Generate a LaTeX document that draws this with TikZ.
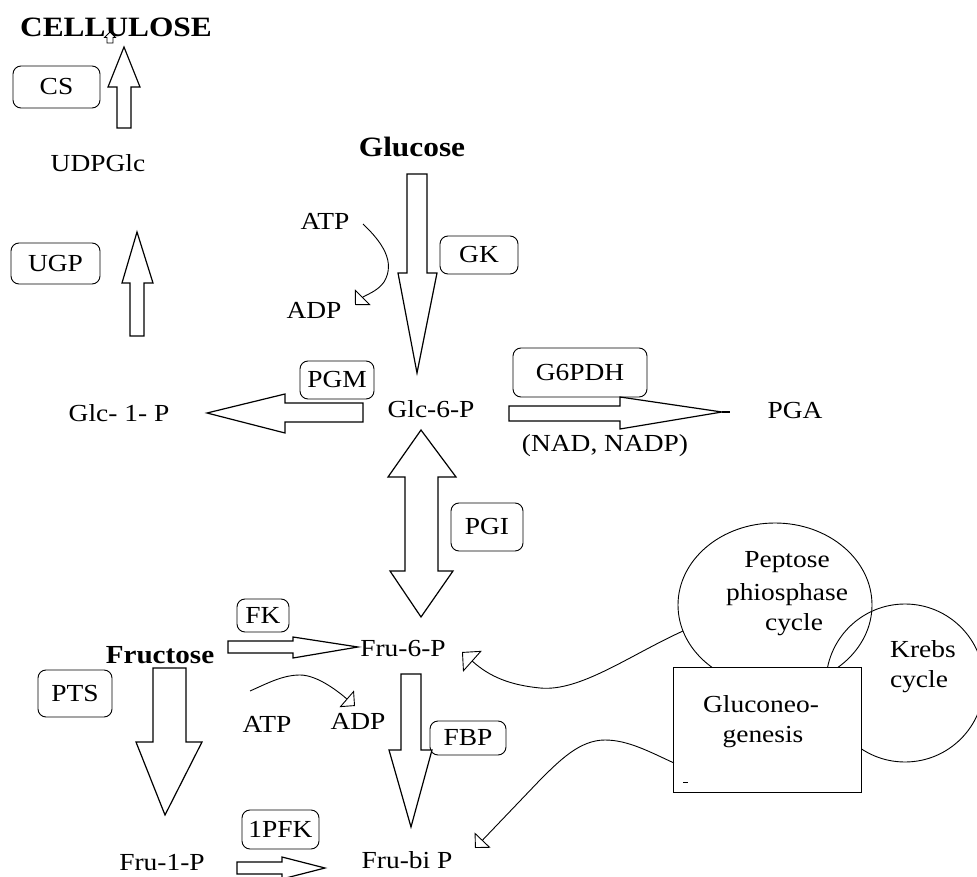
\documentclass[tikz,border=0pt]{standalone}
\usepackage{fontspec}
\setmainfont{Liberation Serif}[FakeStretch=1.12]
\usetikzlibrary{arrows.meta}
\begin{document}
\begin{tikzpicture}[x=1pt,y=-1pt,
  lbl/.style={inner sep=0pt, anchor=base, font=\fontsize{24.5}{29}\selectfont},
  blbl/.style={inner sep=0pt, anchor=base, font=\fontsize{28}{32}\selectfont\bfseries},
  enz/.style={draw, rounded corners=8pt, line width=0.9pt, inner sep=0pt, font=\fontsize{24.5}{29}\selectfont},
  blk/.style={draw, line width=1.2pt, fill=white, line join=miter},
  carr/.style={line width=0.9pt, -{Triangle[open,length=11pt,width=22pt,line width=0.9pt]}},
  carrbig/.style={line width=0.9pt, -{Triangle[open,length=14pt,width=28pt,line width=0.9pt]}},
  outl/.style={draw, line width=0.9pt}]
\useasboundingbox (0,0) rectangle (977,877);
\clip (0,0) rectangle (977,877);
\fill[white] (0,0) rectangle (977,877);

% ---- cycles ----
\draw[outl] (775,605) ellipse [x radius=97pt, y radius=82pt];
\draw[outl] (905,683) circle [radius=79pt];
\draw[outl, fill=white] (673,667) rectangle (861,792);
\draw[line width=0.9pt] (683,782) -- (688,782);

% ---- texts ----
\node[blbl] (cell) at (116,37) {CELLULOSE};
\node[lbl] (udpglc) at (98,172) {UDPGlc};
\node[blbl] (glucose) at (412,157) {Glucose};
\node[lbl] (atp1) at (325,230) {ATP};
\node[lbl] (adp1) at (314,318) {ADP};
\node[lbl] (glc1p) at (119,421) {Glc- 1- P};
\node[lbl] (glc6p) at (431,417) {Glc-6-P};
\node[lbl] (pga) at (795,418) {PGA};
\node[lbl] (nad) at (605,451) {(NAD, NADP)};
\node[blbl, font=\fontsize{26}{30}\selectfont\bfseries] (fructose) at (160,663) {Fructose};
\node[lbl] (fru6p) at (403,656) {Fru-6-P};
\node[lbl] (atp2) at (267,732) {ATP};
\node[lbl] (adp2) at (358,729) {ADP};
\node[lbl] (fru1p) at (162,870) {Fru-1-P};
\node[lbl] (frubip) at (407,868) {Fru-bi P};
\node[lbl] (pp1) at (787,567) {Peptose};
\node[lbl] (pp2) at (787,600) {phiosphase};
\node[lbl] (pp3) at (794,630) {cycle};
\node[lbl] (kr1) at (923,657) {Krebs};
\node[lbl] (kr2) at (919,687) {cycle};
\node[lbl] (gn1) at (761,712) {Gluconeo-};
\node[lbl] (gn2) at (763,742) {genesis};

% ---- enzyme boxes ----
\node[enz, minimum width=87pt, minimum height=42pt] (cs) at (56.5,87) {CS};
\node[enz, minimum width=89pt, minimum height=41pt] (ugp) at (55.5,263.5) {UGP};
\node[enz, minimum width=78pt, minimum height=38pt] (gk) at (479,255) {GK};
\node[enz, minimum width=74pt, minimum height=38pt] (pgm) at (337,380) {PGM};
\node[enz, minimum width=134pt, minimum height=49pt] (g6pdh) at (580,372.5) {G6PDH};
\node[enz, minimum width=72pt, minimum height=48pt] (pgi) at (487,527) {PGI};
\node[enz, minimum width=52pt, minimum height=33pt] (fk) at (263,615.5) {FK};
\node[enz, minimum width=74pt, minimum height=47pt] (pts) at (75,693.5) {PTS};
\node[enz, minimum width=76pt, minimum height=34pt] (fbp) at (468,738) {FBP};
\node[enz, minimum width=77pt, minimum height=39pt] (pfk) at (280.5,829.5) {1PFK};

% ---- block arrows ----
% CS (up)
\draw[blk] (117,128) -- (117,87) -- (108,87) -- (124,47) -- (140,87) -- (131,87) -- (131,128) -- cycle;
% tiny arrow in CELLULOSE
\draw[blk, line width=0.8pt] (107,43) -- (107,37.5) -- (104.5,37.5) -- (110,32) -- (115.5,37.5) -- (113,37.5) -- (113,43) -- cycle;
% UGP (up)
\draw[blk] (130,336) -- (130,283) -- (122,283) -- (137,232) -- (153,283) -- (144,283) -- (144,336) -- cycle;
% GK (down)
\draw[blk] (407,174) -- (427,174) -- (427,273) -- (437,273) -- (417,373) -- (398,273) -- (407,273) -- cycle;
% PGM (left)
\draw[blk] (363,403) -- (363,422) -- (285,422) -- (285,433) -- (207,413) -- (285,394) -- (285,403) -- cycle;
% G6PDH (right)
\draw[blk] (509,406) -- (620,406) -- (620,397) -- (722,412) -- (620,429) -- (620,421) -- (509,421) -- cycle;
\draw[line width=2pt] (722,412) -- (730,412);
% PGI (double)
\draw[blk] (421,430) -- (456,477) -- (438,477) -- (438,571) -- (453,571) -- (421,617) -- (390,571) -- (405,571) -- (405,477) -- (388,477) -- cycle;
% FK (right)
\draw[blk] (228,641) -- (293,641) -- (293,637) -- (358,647) -- (293,658) -- (293,653) -- (228,653) -- cycle;
% FBP (down)
\draw[blk] (401,674) -- (421,674) -- (421,750) -- (432,750) -- (411,827) -- (389,750) -- (401,750) -- cycle;
% PTS (down)
\draw[blk] (153,668) -- (186,668) -- (186,742) -- (202,742) -- (165,815) -- (136,742) -- (153,742) -- cycle;
% 1PFK (right)
\draw[blk] (237,862) -- (282,862) -- (282,857) -- (325,868) -- (282,879) -- (282,874) -- (237,874) -- cycle;

% ---- thin curved arrows ----
\coordinate (c1s) at (363,224);
\coordinate (c1e) at (355,305);
\draw[carr] (c1s) .. controls (382,242) and (396,262) .. (384,282) .. controls (377,292) and (365,295) .. (c1e);
\coordinate (c2s) at (250,691);
\coordinate (c2e) at (355,706);
\draw[carr] (c2s) .. controls (268,683) and (283,675) .. (300,675) .. controls (318,675) and (340,693) .. (c2e);
\coordinate (c3s) at (683,631);
\coordinate (c3e) at (462,652);
\draw[carrbig] (c3s) .. controls (630,655) and (580,692) .. (540,688) .. controls (510,685) and (490,677) .. (c3e);
\coordinate (c4s) at (674,763);
\coordinate (c4e) at (475,848);
\draw[carr] (c4s) .. controls (650,752) and (628,740) .. (605,740) .. controls (580,740) and (560,760) .. (540,780) -- (c4e);
\end{tikzpicture}
\end{document}
